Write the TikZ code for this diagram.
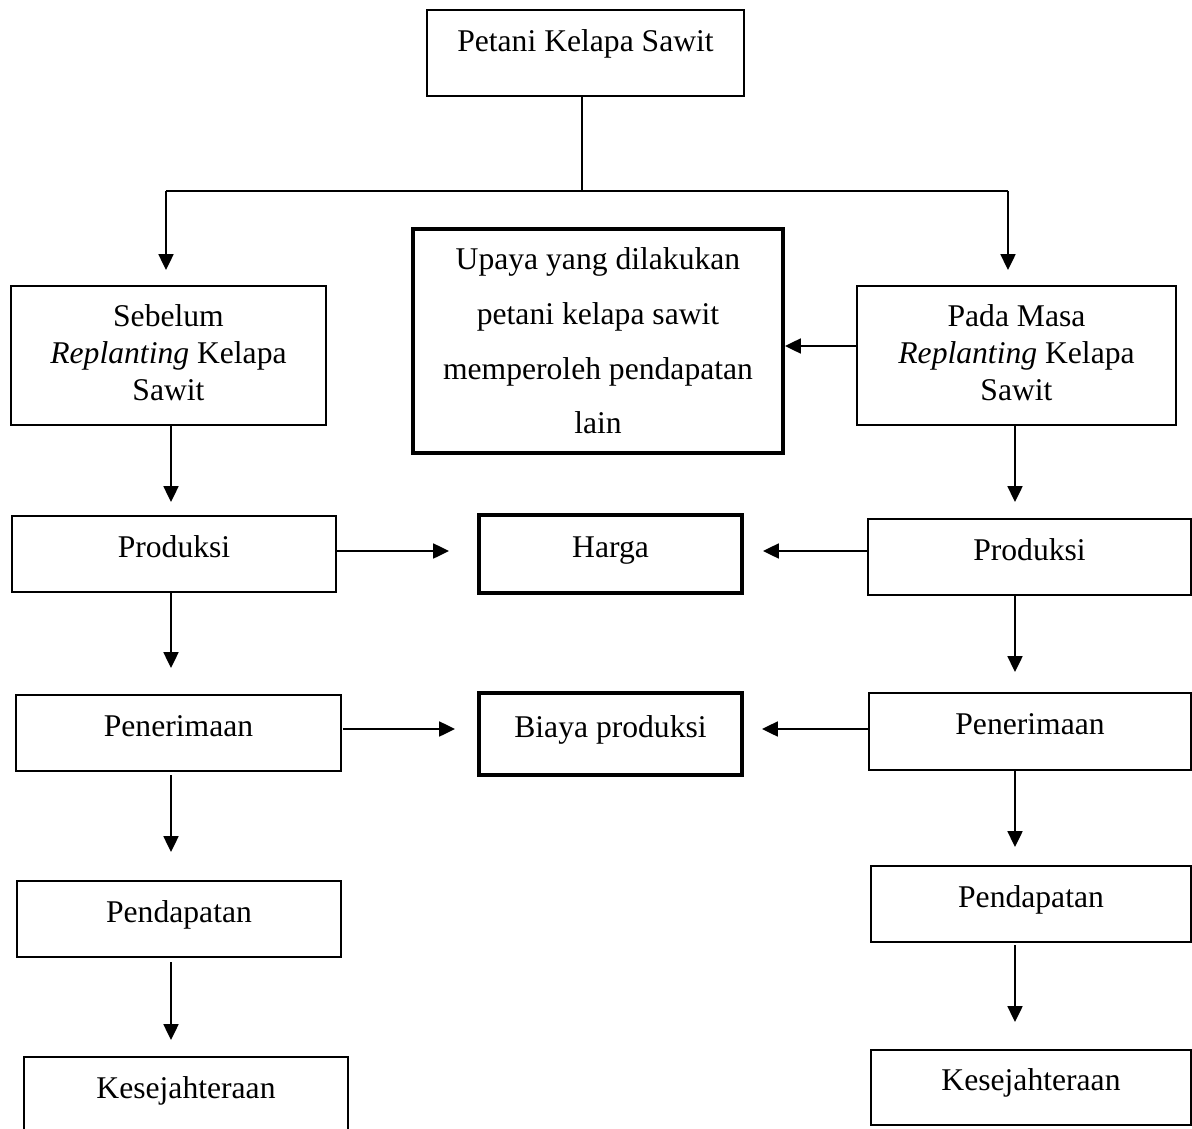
\documentclass[tikz,border=0pt]{standalone}
\usepackage{fontspec}
\setmainfont{Liberation Serif}
\usetikzlibrary{arrows.meta}
\begin{document}
\begin{tikzpicture}[x=0.02cm, y=-0.02cm,
  font=\fontsize{18}{21}\selectfont,
  box/.style={draw, line width=1.1pt, inner sep=0pt, outer sep=0pt, align=center},
  thickbox/.style={box, line width=2.3pt},
  one/.style={text height=0.46cm, text depth=0.34cm},
  conn/.style={line width=0.8pt},
  arr/.style={line width=1.1pt, -{Triangle[length=9pt,width=8.5pt]}}]
\useasboundingbox (0,0) rectangle (1192,1128);
\clip (0,0) rectangle (1192,1128);

% boxes
\node[box, text height=0.38cm, text depth=0.42cm, minimum width=6.34cm, minimum height=1.72cm] (petani) at (585.5,53) {Petani Kelapa Sawit};
\node[box, text depth=0.12cm, minimum width=6.30cm, minimum height=2.78cm] (sebelum) at (168.5,355.5) {Sebelum\\\textit{Replanting} Kelapa\\Sawit};
\node[thickbox, font=\fontsize{18}{31.1}\selectfont, minimum width=7.40cm, minimum height=4.48cm] (upaya) at (598,341) {Upaya yang dilakukan\\petani kelapa sawit\\memperoleh pendapatan\\lain};
\node[box, text depth=0.12cm, minimum width=6.38cm, minimum height=2.78cm] (pada) at (1016.5,355.5) {Pada Masa\\\textit{Replanting} Kelapa\\Sawit};

\node[box, one, minimum width=6.48cm, minimum height=1.52cm] (prodL) at (174,554) {Produksi};
\node[thickbox, one, minimum width=5.26cm, minimum height=1.56cm] (harga) at (610.5,554) {Harga};
\node[box, one, minimum width=6.46cm, minimum height=1.52cm] (prodR) at (1029.5,557) {Produksi};

\node[box, one, minimum width=6.50cm, minimum height=1.52cm] (penL) at (178.5,733) {Penerimaan};
\node[thickbox, one, minimum width=5.26cm, minimum height=1.64cm] (biaya) at (610.5,734) {Biaya produksi};
\node[box, one, minimum width=6.44cm, minimum height=1.54cm] (penR) at (1030,731.5) {Penerimaan};

\node[box, one, minimum width=6.48cm, minimum height=1.52cm] (pendL) at (179,919) {Pendapatan};
\node[box, one, minimum width=6.40cm, minimum height=1.52cm] (pendR) at (1031,904) {Pendapatan};

\node[box, one, minimum width=6.48cm, minimum height=1.52cm] (kesL) at (186,1095) {Kesejahteraan};
\node[box, one, minimum width=6.40cm, minimum height=1.50cm] (kesR) at (1031,1087.5) {Kesejahteraan};

% helper coordinates
\coordinate (hL) at (166,191);
\coordinate (hR) at (1008,191);
\coordinate (hM) at (582,191);
\coordinate (cL) at (171,0);
\coordinate (cR) at (1015,0);
\coordinate (r0) at (0,346);
\coordinate (r1) at (0,551);
\coordinate (r2) at (0,729);

% top tree
\draw[conn] (petani.south -| hM) -- (hM);
\draw[conn] (hL) -- (hR);
\draw[arr, shorten >=0.32cm] (hL) -- (hL |- sebelum.north);
\draw[arr, shorten >=0.32cm] (hR) -- (hR |- pada.north);
\draw[arr, shorten >=0.04cm] (pada.west |- r0) -- (upaya.east |- r0);

% left column
\draw[arr, shorten >=0.28cm] (sebelum.south -| cL) -- (prodL.north -| cL);
\draw[arr, shorten >=0.54cm] (prodL.south -| cL) -- (penL.north -| cL);
\draw[arr, shorten <=0.08cm, shorten >=0.58cm] (penL.south -| cL) -- (pendL.north -| cL);
\draw[arr, shorten <=0.10cm, shorten >=0.34cm] (pendL.south -| cL) -- (kesL.north -| cL);

% right column
\draw[arr, shorten >=0.34cm] (pada.south -| cR) -- (prodR.north -| cR);
\draw[arr, shorten >=0.42cm] (prodR.south -| cR) -- (penR.north -| cR);
\draw[arr, shorten >=0.38cm] (penR.south -| cR) -- (pendR.north -| cR);
\draw[arr, shorten <=0.06cm, shorten >=0.56cm] (pendR.south -| cR) -- (kesR.north -| cR);

% to middle boxes
\draw[arr, shorten >=0.60cm] (prodL.east |- r1) -- (harga.west |- r1);
\draw[arr, shorten >=0.42cm] (prodR.west |- r1) -- (harga.east |- r1);
\draw[arr, shorten <=0.04cm, shorten >=0.48cm] (penL.east |- r2) -- (biaya.west |- r2);
\draw[arr, shorten >=0.40cm] (penR.west |- r2) -- (biaya.east |- r2);
\end{tikzpicture}
\end{document}
